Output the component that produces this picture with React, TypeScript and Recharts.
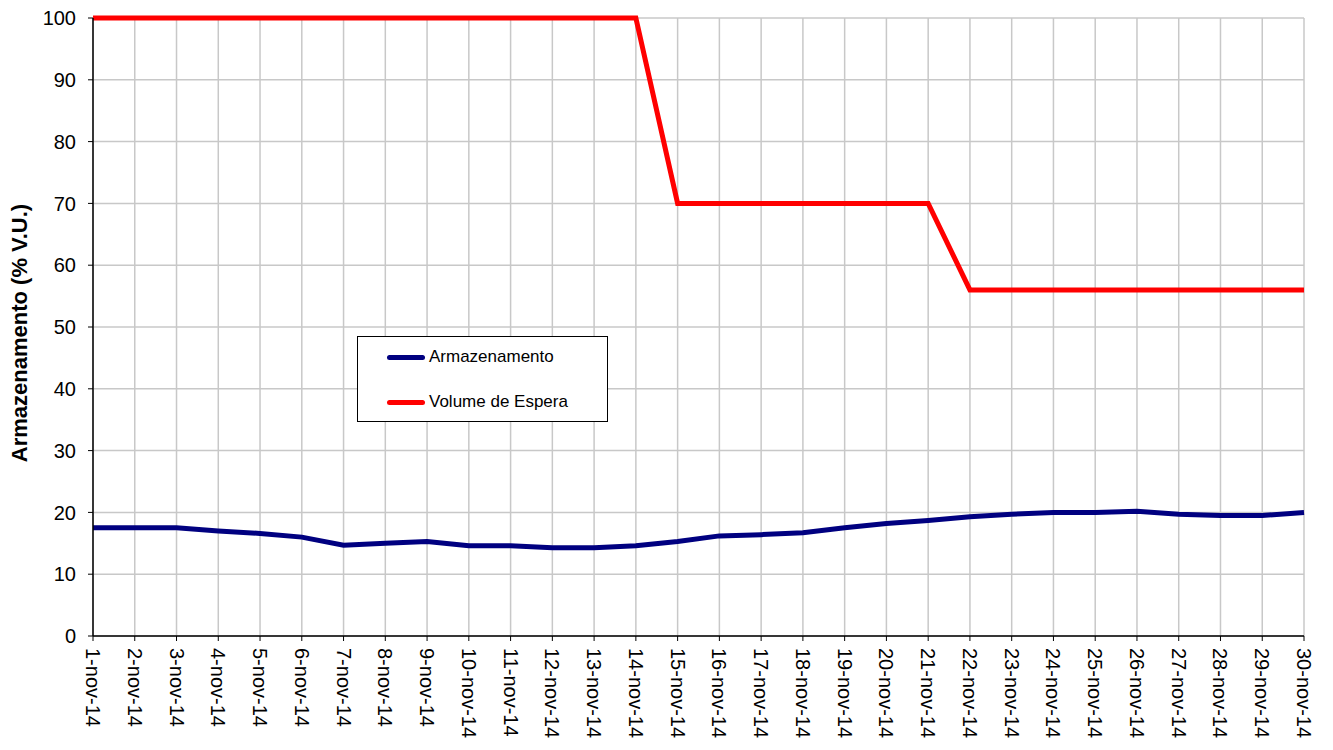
import { LineChart, Line, XAxis, YAxis, CartesianGrid } from "recharts";

const days = Array.from({ length: 30 }, (_, i) => `${i + 1}-nov-14`);

const armazenamento = [
  17.5, 17.5, 17.5, 17.0, 16.6, 16.0, 14.7, 15.0, 15.3, 14.6,
  14.6, 14.3, 14.3, 14.6, 15.3, 16.2, 16.4, 16.7, 17.5, 18.2,
  18.7, 19.3, 19.7, 20.0, 20.0, 20.2, 19.7, 19.5, 19.5, 20.0,
];

const volumeEspera = [
  100, 100, 100, 100, 100, 100, 100, 100, 100, 100,
  100, 100, 100, 100, 70, 70, 70, 70, 70, 70,
  70, 56, 56, 56, 56, 56, 56, 56, 56, 56,
];

const yTicks = [0, 10, 20, 30, 40, 50, 60, 70, 80, 90, 100];

const data = days.map((d, i) => ({
  day: d,
  armazenamento: armazenamento[i],
  espera: volumeEspera[i],
}));

const FONT = "Arial, 'Liberation Sans', sans-serif";

const XTick = ({ x, y, payload }: any) => (
  <text
    x={x}
    y={y}
    transform={`rotate(90 ${x} ${y})`}
    textAnchor="start"
    dominantBaseline="central"
    fontSize={20}
    fontFamily={FONT}
    fill="#000"
  >
    {payload.value}
  </text>
);

const legendItems = [
  { label: "Armazenamento", color: "#000080", top: 20 },
  { label: "Volume de Espera", color: "#ff0000", top: 65 },
];

const LegendBox = () => (
  <div
    style={{
      position: "absolute",
      left: 349,
      top: 328,
      width: 249,
      height: 84,
      border: "1px solid #000",
      background: "#fff",
      fontFamily: FONT,
      fontSize: 17,
      color: "#000",
    }}
  >
    {legendItems.map((it) => (
      <div key={it.label}>
        <div
          style={{
            position: "absolute",
            left: 29,
            top: it.top - 2,
            width: 38,
            height: 5,
            borderRadius: 3,
            background: it.color,
          }}
        />
        <span
          style={{
            position: "absolute",
            left: 71,
            top: it.top - 11,
            lineHeight: "22px",
            whiteSpace: "nowrap",
          }}
        >
          {it.label}
        </span>
      </div>
    ))}
  </div>
);

export default function App() {
  return (
    <div style={{ position: "relative", width: 1325, height: 742 }}>
      <LineChart
        width={1325}
        height={742}
        data={data}
        margin={{ top: 10, right: 29, left: 0, bottom: 0 }}
      >
        <CartesianGrid stroke="#c8c8c8" strokeWidth={1.5} />
        <XAxis
          dataKey="day"
          height={114}
          interval={0}
          tick={<XTick />}
          tickSize={5}
          tickMargin={7}
          stroke="#000"
          axisLine={{ stroke: "#000", strokeWidth: 1.5 }}
          tickLine={{ stroke: "#000" }}
        />
        <YAxis
          width={85}
          domain={[0, 100]}
          ticks={yTicks}
          interval={0}
          tickSize={5}
          tickMargin={12}
          tick={{ fontSize: 20, fontFamily: FONT, fill: "#000" }}
          axisLine={{ stroke: "#000", strokeWidth: 1.5 }}
          tickLine={{ stroke: "#000" }}
          label={{
            content: () => (
              <text
                x={11}
                y={325}
                transform="rotate(-90 11 325)"
                textAnchor="middle"
                dominantBaseline="central"
                fontSize={22}
                fontWeight="bold"
                fontFamily={FONT}
                fill="#000"
              >
                Armazenamento (% V.U.)
              </text>
            ),
          }}
        />
        <Line
          type="linear"
          dataKey="armazenamento"
          name="Armazenamento"
          stroke="#000080"
          strokeWidth={5}
          dot={false}
          isAnimationActive={false}
        />
        <Line
          type="linear"
          dataKey="espera"
          name="Volume de Espera"
          stroke="#ff0000"
          strokeWidth={5}
          dot={false}
          isAnimationActive={false}
        />
      </LineChart>
      <LegendBox />
    </div>
  );
}
